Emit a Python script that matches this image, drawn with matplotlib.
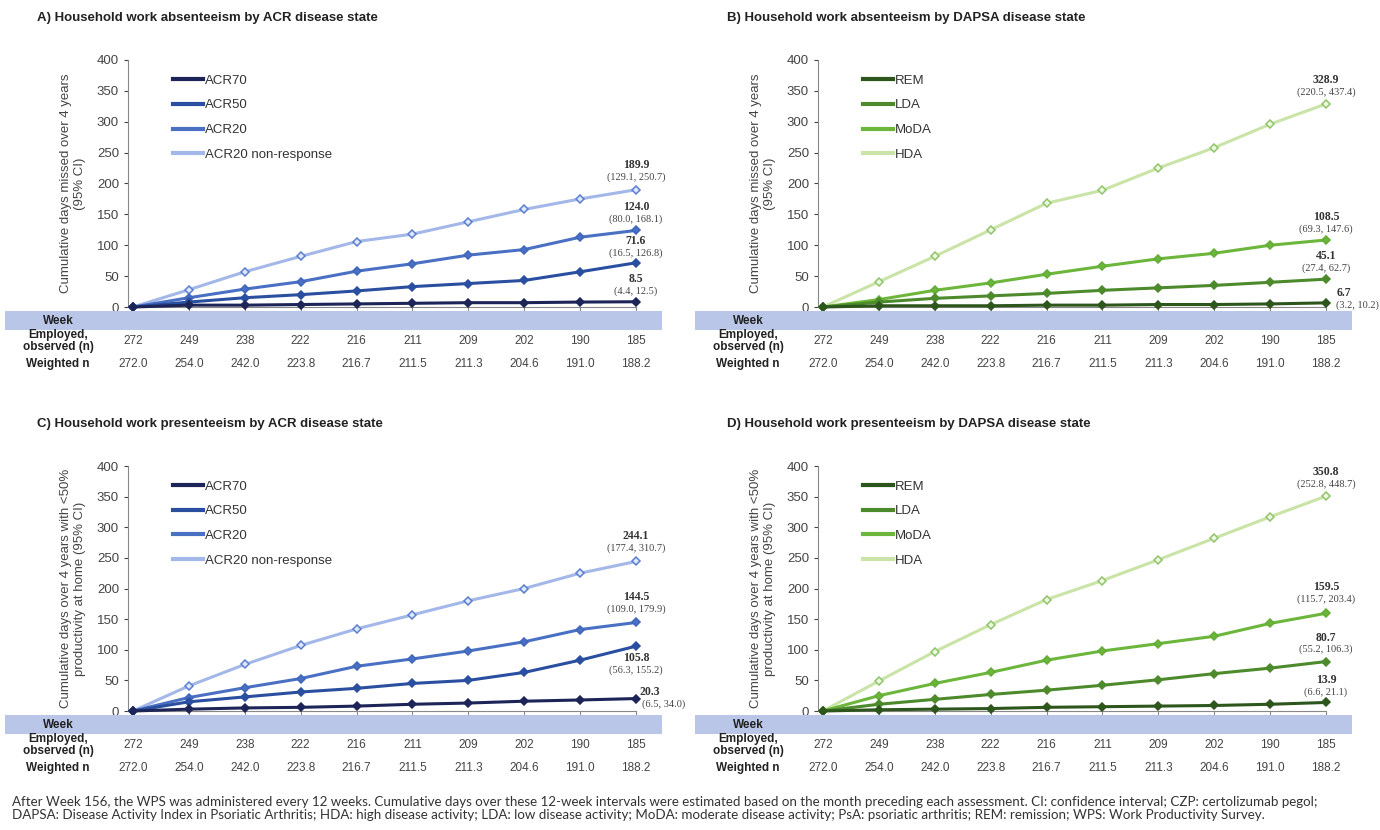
import numpy as np
import matplotlib
matplotlib.use("Agg")
import matplotlib.pyplot as plt
import matplotlib.transforms as mtransforms
from matplotlib.patches import Rectangle

plt.rcParams['font.family'] = ['Liberation Sans', 'DejaVu Sans']

W, H = 1380, 830

weeks = [0, 24, 48, 72, 96, 120, 144, 168, 192, 216]
employed_n = ["272", "249", "238", "222", "216", "211", "209", "202", "190", "185"]
weighted_n = ["272.0", "254.0", "242.0", "223.8", "216.7", "211.5", "211.3", "204.6", "191.0", "188.2"]

acr_names = ["ACR70", "ACR50", "ACR20", "ACR20 non-response"]
dapsa_names = ["REM", "LDA", "MoDA", "HDA"]

# A) absenteeism by ACR
a_acr70 = [0, 3, 3, 4, 5, 6, 7, 7, 8, 8.5]
a_acr50 = [0, 8, 15, 20, 26, 33, 38, 43, 57, 71.6]
a_acr20 = [0, 15, 29, 41, 58, 70, 84, 93, 113, 124.0]
a_nonresp = [0, 28, 57, 82, 106, 118, 138, 158, 175, 189.9]
a_ci = ["(4.4, 12.5)", "(16.5, 126.8)", "(80.0, 168.1)", "(129.1, 250.7)"]

# B) absenteeism by DAPSA
b_rem = [0, 2, 2, 2, 3, 3, 4, 4, 5, 6.7]
b_lda = [0, 8, 14, 18, 22, 27, 31, 35, 40, 45.1]
b_moda = [0, 12, 27, 39, 53, 66, 78, 87, 100, 108.5]
b_hda = [0, 41, 82, 125, 168, 189, 225, 258, 296, 328.9]
b_ci = ["(3.2, 10.2)", "(27.4, 62.7)", "(69.3, 147.6)", "(220.5, 437.4)"]

# C) presenteeism by ACR
c_acr70 = [0, 3, 5, 6, 8, 11, 13, 16, 18, 20.3]
c_acr50 = [0, 15, 23, 31, 37, 45, 50, 63, 83, 105.8]
c_acr20 = [0, 22, 38, 53, 73, 85, 98, 113, 133, 144.5]
c_nonresp = [0, 41, 76, 107, 134, 157, 180, 200, 225, 244.1]
c_ci = ["(6.5, 34.0)", "(56.3, 155.2)", "(109.0, 179.9)", "(177.4, 310.7)"]

# D) presenteeism by DAPSA
d_rem = [0, 2, 3, 4, 6, 7, 8, 9, 11, 13.9]
d_lda = [0, 11, 19, 27, 34, 42, 51, 61, 70, 80.7]
d_moda = [0, 25, 45, 63, 83, 98, 110, 122, 143, 159.5]
d_hda = [0, 49, 97, 141, 182, 213, 247, 282, 317, 350.8]
d_ci = ["(6.6, 21.1)", "(55.2, 106.3)", "(115.7, 203.4)", "(252.8, 448.7)"]

blue_cols = ["#1c2458", "#2a4fa0", "#4a70c4", "#a3b8e8"]
blue_edge = ["#1c2458", "#2a4fa0", "#3f66bd", "#5a7ed0"]
green_cols = ["#2d561c", "#4c8a2b", "#6cb63c", "#c9e4a6"]
green_edge = ["#2d561c", "#4c8a2b", "#62ad35", "#8fc46a"]

ylab_abs = "Cumulative days missed over 4 years\n(95% CI)"
ylab_pres = "Cumulative days over 4 years with <50%\nproductivity at home (95% CI)"


def fx(x):
    return x / W


def fy(y):
    return 1 - y / H


def panel(left, top, bottom, title, series, names, cis, cols, edges, light, ylab, label_pos):
    right = left + 508
    ax = fig.add_axes([fx(left), fy(bottom), fx(right) - fx(left), (bottom - top) / H])
    ax.set_xlim(-2.15, 216)
    ax.set_ylim(0, 400)
    for i in range(3, -1, -1):
        ax.plot(weeks, series[i], color=cols[i], lw=2.2, marker='D', ms=4.2,
                mec=edges[i], mfc=cols[i] if i < 3 else light,
                mew=1.1, clip_on=False, zorder=3 + (3 - i), label=names[i])
    h, l = ax.get_legend_handles_labels()
    leg = ax.legend(h[::-1], l[::-1], loc='upper left', bbox_to_anchor=(0.065, 0.99),
                    frameon=False, fontsize=9.5, handlelength=2.3, handletextpad=0.1,
                    labelspacing=0.95)
    for t in leg.get_texts():
        t.set_color("#333333")
    for ln in leg.get_lines():
        ln.set_marker('')
        ln.set_linewidth(3)
    for sp in ['top', 'right']:
        ax.spines[sp].set_visible(False)
    ax.spines['left'].set_color("#888888")
    ax.spines['bottom'].set_color("#888888")
    ax.set_yticks(range(0, 401, 50))
    ax.set_xticks(weeks)
    ax.set_xticklabels([])
    ax.tick_params(axis='y', labelsize=9.5, colors="#444444", length=3, direction='out')
    ax.tick_params(axis='x', length=4, colors="#888888", direction='out')
    ax.set_ylabel(ylab, fontsize=9.5, color="#444444", labelpad=8)
    fig.text(fx(left - 91), fy(top - 42), title, fontsize=9.5, fontweight='bold',
             color="#222222", va='center')

    for i in range(4):
        v = series[i][-1]
        dx, dy1, dy2, ha2 = label_pos[i]
        ax.annotate("%.1f" % v, (weeks[-1], v), xytext=(dx, dy1), textcoords='offset pixels',
                    ha='center', va='center', fontsize=8.5, fontweight='bold',
                    family='Liberation Serif', color="#333333", annotation_clip=False)
        ax.annotate(cis[i], (weeks[-1], v), xytext=(dx if ha2 == 'center' else dx - 8, dy2),
                    textcoords='offset pixels', ha=ha2, va='center', fontsize=7.5,
                    family='Liberation Serif', color="#444444", annotation_clip=False)

    # table below the axis
    tr = mtransforms.blended_transform_factory(ax.transData, fig.transFigure)
    band_left = left - 123
    fig.patches.append(Rectangle((fx(band_left), fy(bottom + 23)), fx(657), 19 / H,
                                 transform=fig.transFigure, facecolor="#b9c6e8",
                                 edgecolor='none', zorder=0))
    lab_x = fx(left - 70)
    fig.text(lab_x, fy(bottom + 14), "Week", ha='center', va='center', fontsize=8.5,
             fontweight='bold', color="#222222")
    fig.text(lab_x, fy(bottom + 34), "Employed,\nobserved (n)", ha='center', va='center',
             fontsize=8.5, fontweight='bold', color="#222222", linespacing=1.05)
    fig.text(lab_x, fy(bottom + 57), "Weighted n", ha='center', va='center', fontsize=8.5,
             fontweight='bold', color="#222222")
    for j, wk in enumerate(weeks):
        ax.text(wk, fy(bottom + 14), str(wk), transform=tr, ha='center', va='center',
                fontsize=8.5, fontweight='bold', color="#222222")
        ax.text(wk, fy(bottom + 34), employed_n[j], transform=tr, ha='center', va='center',
                fontsize=8.5, color="#444444")
        ax.text(wk, fy(bottom + 57), weighted_n[j], transform=tr, ha='center', va='center',
                fontsize=8.5, color="#444444")
    return ax


fig = plt.figure(figsize=(13.8, 8.3), dpi=100)

pos_a = [(0, 23, 11, 'center'), (0, 22, 10, 'center'), (0, 23, 11, 'center'), (0, 25, 13, 'center')]
pos_b = [(18, 10, -2, 'left'), (0, 23, 11, 'center'), (0, 23, 11, 'center'), (0, 24, 12, 'center')]
pos_c = [(14, 7, -6, 'left'), (0, -12, -24, 'center'), (0, 25, 13, 'center'), (0, 25, 13, 'center')]
pos_d = [(0, 22, 10, 'center'), (0, 24, 12, 'center'), (0, 26, 14, 'center'), (0, 24, 12, 'center')]

panel(128, 60, 307, "A) Household work absenteeism by ACR disease state",
      [a_acr70, a_acr50, a_acr20, a_nonresp], acr_names, a_ci, blue_cols, blue_edge, "#dfe8fa",
      ylab_abs, pos_a)
panel(818, 60, 307, "B) Household work absenteeism by DAPSA disease state",
      [b_rem, b_lda, b_moda, b_hda], dapsa_names, b_ci, green_cols, green_edge, "#eef7e2",
      ylab_abs, pos_b)
panel(128, 466, 711, "C) Household work presenteeism by ACR disease state",
      [c_acr70, c_acr50, c_acr20, c_nonresp], acr_names, c_ci, blue_cols, blue_edge, "#dfe8fa",
      ylab_pres, pos_c)
panel(818, 466, 711, "D) Household work presenteeism by DAPSA disease state",
      [d_rem, d_lda, d_moda, d_hda], dapsa_names, d_ci, green_cols, green_edge, "#eef7e2",
      ylab_pres, pos_d)

foot = ("After Week 156, the WPS was administered every 12 weeks. Cumulative days over these 12-week "
        "intervals were estimated based on the month preceding each assessment. CI: confidence interval; "
        "CZP: certolizumab pegol;\nDAPSA: Disease Activity Index in Psoriatic Arthritis; HDA: high disease "
        "activity; LDA: low disease activity; MoDA: moderate disease activity; PsA: psoriatic arthritis; "
        "REM: remission; WPS: Work Productivity Survey.")
fig.text(fx(12), fy(808), foot, fontsize=9.6, family=['Lato', 'DejaVu Sans'], color="#333333",
         va='center', linespacing=1.1)

fig.savefig("out.png", dpi=100, facecolor='white')
